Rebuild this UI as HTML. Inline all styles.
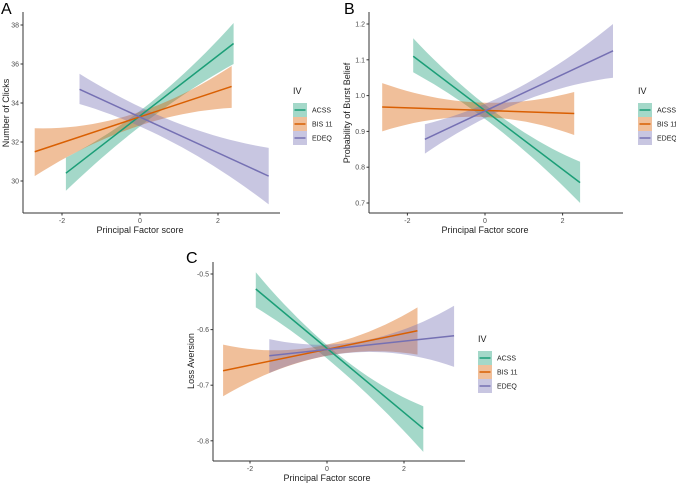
<!DOCTYPE html>
<html><head><meta charset="utf-8">
<style>
html,body{margin:0;padding:0;background:#fff;}
svg{display:block;font-family:"Liberation Sans",Arial,sans-serif;}
</style></head>
<body>
<svg id="chart" width="676" height="483" viewBox="0 0 676 483" xmlns="http://www.w3.org/2000/svg"></svg>
<script>
// ---- data ----
const seriesNames = ["ACSS", "BIS 11", "EDEQ"];
const seriesColors = ["#1b9e77", "#d95f02", "#7570b3"];
// Panel A: Number of Clicks
const aX = [[-1.9, 0, 2.4], [-2.7, 0, 2.35], [-1.55, 0, 3.3]];
const aFit = [[30.4, 33.2, 37.05], [31.5, 33.2, 34.85], [34.7, 33.3, 30.25]];
const aLo = [[29.5, 32.8, 36.0], [30.25, 32.85, 33.75], [33.95, 32.8, 28.8]];
const aHi = [[31.2, 33.6, 38.1], [32.7, 33.55, 35.9], [35.5, 33.8, 31.7]];
const aYTicks = [30, 32, 34, 36, 38];
// Panel B: Probability of Burst Belief
const bX = [[-1.85, 0, 2.45], [-2.65, 0, 2.3], [-1.55, 0, 3.3]];
const bFit = [[1.11, 0.955, 0.757], [0.968, 0.96, 0.95], [0.878, 0.957, 1.125]];
const bLo = [[1.065, 0.935, 0.70], [0.90, 0.94, 0.89], [0.838, 0.937, 1.05]];
const bHi = [[1.16, 0.975, 0.815], [1.035, 0.98, 1.01], [0.92, 0.977, 1.2]];
const bYTicks = [0.7, 0.8, 0.9, 1.0, 1.1, 1.2];
// Panel C: Loss Aversion
const cX = [[-1.85, 0, 2.5], [-2.7, 0, 2.35], [-1.5, 0, 3.3]];
const cFit = [[-0.527, -0.64, -0.778], [-0.674, -0.637, -0.602], [-0.647, -0.637, -0.611]];
const cLo = [[-0.56, -0.652, -0.82], [-0.72, -0.647, -0.645], [-0.678, -0.647, -0.667]];
const cHi = [[-0.497, -0.628, -0.738], [-0.627, -0.627, -0.56], [-0.617, -0.627, -0.557]];
const cYTicks = [-0.8, -0.7, -0.6, -0.5];
const xTicks = [-2, 0, 2];

const NS = "http://www.w3.org/2000/svg";
const svg = document.getElementById("chart");
function mk(tag, attrs, parent, text) {
  const e = document.createElementNS(NS, tag);
  for (const k in attrs) e.setAttribute(k, attrs[k]);
  if (text !== undefined) e.textContent = text;
  (parent || svg).appendChild(e);
  return e;
}
function curve(xs, ys, sx, sy) {
  const pts = [];
  const n = 24;
  for (let i = 0; i <= n; i++) {
    const t = xs[0] + (xs[2] - xs[0]) * i / n;
    const [x0, x1, x2] = xs, [y0, y1, y2] = ys;
    const v = y0 * (t - x1) * (t - x2) / ((x0 - x1) * (x0 - x2)) +
              y1 * (t - x0) * (t - x2) / ((x1 - x0) * (x1 - x2)) +
              y2 * (t - x0) * (t - x1) / ((x2 - x0) * (x2 - x1));
    pts.push([sx(t), sy(v)]);
  }
  return pts;
}
function panel(cfg) {
  const g = mk("g", {}, svg);
  
  
  const sx = v => cfg.x0 + v * cfg.xs;
  const sy = v => cfg.yRef + (v - cfg.yRefVal) * cfg.ys;
  for (let s = 0; s < 3; s++) {
    const lo = curve(cfg.X[s], cfg.Lo[s], sx, sy);
    const hi = curve(cfg.X[s], cfg.Hi[s], sx, sy).reverse();
    const d = "M" + lo.concat(hi).map(p => p[0].toFixed(1) + "," + p[1].toFixed(1)).join("L") + "Z";
    const b = mk("path", {d: d, fill: seriesColors[s], "fill-opacity": 0.4, stroke: "none"}, g);
    
    
  }
  for (let s = 0; s < 3; s++) {
    const X = cfg.X[s], F = cfg.Fit[s];
    const l = mk("line", {x1: sx(X[0]), y1: sy(F[0]), x2: sx(X[2]), y2: sy(F[2]), stroke: seriesColors[s], "stroke-width": 1.5}, g);
    
    
  }
  const ya = mk("line", {x1: cfg.axX, y1: cfg.top, x2: cfg.axX, y2: cfg.axY, stroke: "#333", "stroke-width": 1}, g);
  
  
  const xa = mk("line", {x1: cfg.axX, y1: cfg.axY, x2: cfg.right, y2: cfg.axY, stroke: "#333", "stroke-width": 1}, g);
  
  
  xTicks.forEach(t => {
    mk("line", {x1: sx(t), y1: cfg.axY, x2: sx(t), y2: cfg.axY + 2.5, stroke: "#333"}, g);
    const tl = mk("text", {x: sx(t), y: cfg.axY + 10, "font-size": 7, fill: "#4d4d4d", "text-anchor": "middle"}, g, String(t));
    
    
  });
  cfg.yTicks.forEach(t => {
    mk("line", {x1: cfg.axX - 2.5, y1: sy(t), x2: cfg.axX, y2: sy(t), stroke: "#333"}, g);
    const lab = cfg.fmt(t);
    const tl = mk("text", {x: cfg.axX - 4, y: sy(t) + 2.5, "font-size": 7, fill: "#4d4d4d", "text-anchor": "end"}, g, lab);
    
    
  });
  const xt = mk("text", {x: cfg.xTitleX, y: cfg.axY + 20, "font-size": 9, fill: "#222", "text-anchor": "middle"}, g, "Principal Factor score");
  
  
  const yt = mk("text", {x: 0, y: 0, "font-size": 9, fill: "#222", "text-anchor": "middle", transform: `translate(${cfg.yTitleX},${cfg.yTitleY}) rotate(-90)`}, g, cfg.yTitle);
  
  
  const pl = mk("text", {x: cfg.letterX, y: cfg.letterY, "font-size": 16, fill: "#000"}, g, cfg.letter);
  
  
  const lg = mk("g", {}, g);
  
  
  mk("text", {x: cfg.legX, y: cfg.legY, "font-size": 9, fill: "#222"}, lg, "IV");
  for (let s = 0; s < 3; s++) {
    const ry = cfg.legY + 9 + s * 14;
    const e = mk("g", {}, lg);
    
    
    mk("rect", {x: cfg.legX, y: ry, width: 14, height: 14, fill: seriesColors[s], "fill-opacity": 0.4}, e);
    mk("line", {x1: cfg.legX + 1.5, y1: ry + 7, x2: cfg.legX + 12.5, y2: ry + 7, stroke: seriesColors[s], "stroke-width": 1.5}, e);
    mk("text", {x: cfg.legX + 19, y: ry + 9.5, "font-size": 7, fill: "#222"}, e, seriesNames[s]);
  }
}
panel({name: "panel-a", X: aX, Fit: aFit, Lo: aLo, Hi: aHi, yTicks: aYTicks, fmt: t => String(t),
  x0: 140, xs: 39, yRef: 181, yRefVal: 30, ys: -19.5, axX: 23, axY: 213, top: 12, right: 280,
  xTitleX: 140, yTitle: "Number of Clicks", yTitleX: 9, yTitleY: 113, letter: "A", letterX: 1, letterY: 14,
  legX: 293, legY: 94});
panel({name: "panel-b", X: bX, Fit: bFit, Lo: bLo, Hi: bHi, yTicks: bYTicks, fmt: t => t.toFixed(1),
  x0: 485, xs: 38.8, yRef: 203, yRefVal: 0.7, ys: -358, axX: 369, axY: 213, top: 12, right: 623,
  xTitleX: 485, yTitle: "Probability of Burst Belief", yTitleX: 350, yTitleY: 113, letter: "B", letterX: 344, letterY: 14,
  legX: 638, legY: 94});
panel({name: "panel-c", X: cX, Fit: cFit, Lo: cLo, Hi: cHi, yTicks: cYTicks, fmt: t => t.toFixed(1),
  x0: 327, xs: 38.5, yRef: 274, yRefVal: -0.5, ys: -556, axX: 213, axY: 461, top: 262, right: 465,
  xTitleX: 327, yTitle: "Loss Aversion", yTitleX: 194, yTitleY: 361, letter: "C", letterX: 186, letterY: 263,
  legX: 478, legY: 342});
</script>
</body></html>
